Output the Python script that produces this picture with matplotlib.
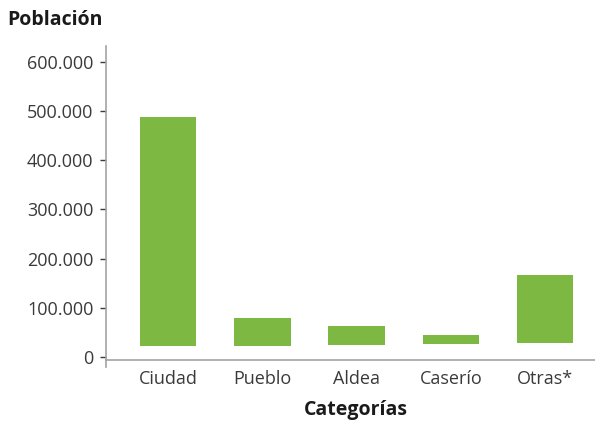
import matplotlib.pyplot as plt
from matplotlib.ticker import FuncFormatter

categorias = ["Ciudad", "Pueblo", "Aldea", "Caserío", "Otras*"]
base = [23000, 23000, 24000, 26000, 28000]
tope = [488000, 79000, 63000, 45000, 167000]
yticks = [0, 100000, 200000, 300000, 400000, 500000, 600000]

verde = "#7db843"
gris = "#a3a3a3"
texto = "#3a3a3a"

plt.rcParams["font.family"] = ["Open Sans", "DejaVu Sans"]

fig = plt.figure(figsize=(5.95, 4.23), dpi=100)
ax = fig.add_axes([0.178, 0.149, 0.822, 0.742])

alturas = [t - b for t, b in zip(tope, base)]
ax.bar(range(len(categorias)), alturas, bottom=base, width=0.6, color=verde)

ax.set_xlim(-0.66, 4.53)
ax.set_ylim(-6000, 632000)
ax.set_yticks(yticks)
ax.yaxis.set_major_formatter(FuncFormatter(lambda v, p: f"{int(v):,}".replace(",", ".")))
ax.set_xticks(range(len(categorias)))
ax.set_xticklabels(categorias)

for s in ["top", "right"]:
    ax.spines[s].set_visible(False)
for s in ["left", "bottom"]:
    ax.spines[s].set_color(gris)
    ax.spines[s].set_linewidth(1.2)
ax.plot([0, 0], [-20000, -6000], transform=ax.get_yaxis_transform(),
        color=gris, lw=1.2, clip_on=False)

ax.tick_params(axis="y", length=4, width=1, color=texto, pad=5,
               labelsize=13, labelcolor=texto)
ax.tick_params(axis="x", length=0, pad=7, labelsize=13, labelcolor=texto)

fig.text(0.013, 0.952, "Población", fontsize=14, fontweight="bold",
         color="#1a1a1a", ha="left", va="center")
fig.text(0.598, 0.03, "Categorías", fontsize=14, fontweight="bold",
         color="#1a1a1a", ha="center", va="center")

fig.savefig("out.png", dpi=100)
